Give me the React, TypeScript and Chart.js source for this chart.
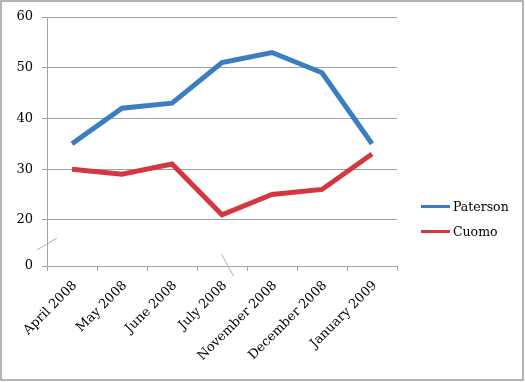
import React, { useEffect, useRef } from "react";
import { Chart, registerables } from "chart.js";

Chart.register(...registerables);

const categories = [
  "April 2008",
  "May 2008",
  "June 2008",
  "July 2008",
  "November 2008",
  "December 2008",
  "January 2009",
];
const paterson = [35, 42, 43, 51, 53, 49, 35];
const cuomo = [30, 29, 31, 21, 25, 26, 33];
const yTickValues = [20, 30, 40, 50, 60];
const yBreakMin = 10.9;
const yMax = 60;

const FONT = "'DejaVu Serif', serif";
const BLUE = "#3A7DC0";
const RED = "#D4373F";
const GRID = "#A3A3A3";

export default function App() {
  const ref = useRef<HTMLCanvasElement>(null);
  useEffect(() => {
    document.body.style.margin = "0";
    const canvas = ref.current!;
    const decor = {
      id: "decor",
      beforeDraw(chart: any) {
        const ctx = chart.ctx;
        ctx.save();
        ctx.fillStyle = "#ffffff";
        ctx.fillRect(0, 0, chart.width, chart.height);
        ctx.restore();
      },
      afterDraw(chart: any) {
        const ctx = chart.ctx;
        const area = chart.chartArea;
        const x = chart.scales.x;
        ctx.save();
        // outer border
        ctx.strokeStyle = "#9C9C9C";
        ctx.lineWidth = 1.5;
        ctx.strokeRect(1, 1, chart.width - 3, chart.height - 3);
        // axis break marks
        ctx.strokeStyle = "#B0B0B0";
        ctx.lineWidth = 1;
        ctx.beginPath();
        ctx.moveTo(area.left - 10, area.bottom - 16);
        ctx.lineTo(area.left + 10, area.bottom - 28);
        const bx = x.getPixelForValue(3) + 5.5;
        ctx.moveTo(bx - 6, area.bottom - 12);
        ctx.lineTo(bx + 6, area.bottom + 10);
        ctx.stroke();
        // legend
        const items = [
          { label: "Paterson", color: BLUE },
          { label: "Cuomo", color: RED },
        ];
        ctx.font = `12.5px ${FONT}`;
        ctx.textBaseline = "middle";
        ctx.fillStyle = "#000";
        items.forEach((it, i) => {
          const y = 206.5 + i * 25;
          ctx.strokeStyle = it.color;
          ctx.lineWidth = 3;
          ctx.beginPath();
          ctx.moveTo(421, y);
          ctx.lineTo(450, y);
          ctx.stroke();
          ctx.fillText(it.label, 453, y + 1);
        });
        ctx.restore();
      },
    };
    const chart = new Chart(canvas, {
      type: "line",
      data: {
        labels: categories,
        datasets: [
          {
            label: "Paterson",
            data: paterson,
            borderColor: BLUE,
            backgroundColor: BLUE,
            borderWidth: 5,
            pointRadius: 0,
            tension: 0,
          },
          {
            label: "Cuomo",
            data: cuomo,
            borderColor: RED,
            backgroundColor: RED,
            borderWidth: 5,
            pointRadius: 0,
            tension: 0,
          },
        ],
      },
      options: {
        responsive: false,
        animation: false,
        layout: { padding: { left: 0, top: 17, right: 128, bottom: 0 } },
        plugins: {
          legend: { display: false },
          tooltip: { enabled: false },
        },
        scales: {
          x: {
            type: "category",
            offset: true,
            grid: {
              offset: true,
              drawOnChartArea: false,
              drawTicks: true,
              tickLength: 5,
              color: GRID,
            },
            border: { display: true, color: GRID, width: 1 },
            ticks: {
              minRotation: 45,
              maxRotation: 45,
              color: "#000",
              padding: 7,
              labelOffset: 3,
              font: { family: FONT, size: 13 },
              autoSkip: false,
            },
            afterFit(scale: any) {
              scale.height = 116;
            },
          },
          y: {
            min: yBreakMin,
            max: yMax,
            afterBuildTicks(scale: any) {
              scale.ticks = [{ value: yBreakMin }, ...yTickValues.map((v) => ({ value: v }))];
            },
            afterFit(scale: any) {
              scale.width = 47;
            },
            grid: { color: GRID, tickLength: 5 },
            border: { display: true, color: GRID, width: 1 },
            ticks: {
              color: "#000",
              padding: 9,
              font: { family: FONT, size: 13 },
              callback: (v: any) => (v === yBreakMin ? "0" : String(v)),
            },
          },
        },
      },
      plugins: [decor],
    });
    return () => chart.destroy();
  }, []);
  return (
    <div style={{ width: 525, height: 382 }}>
      <canvas ref={ref} width={525} height={382} style={{ display: "block" }} />
    </div>
  );
}
